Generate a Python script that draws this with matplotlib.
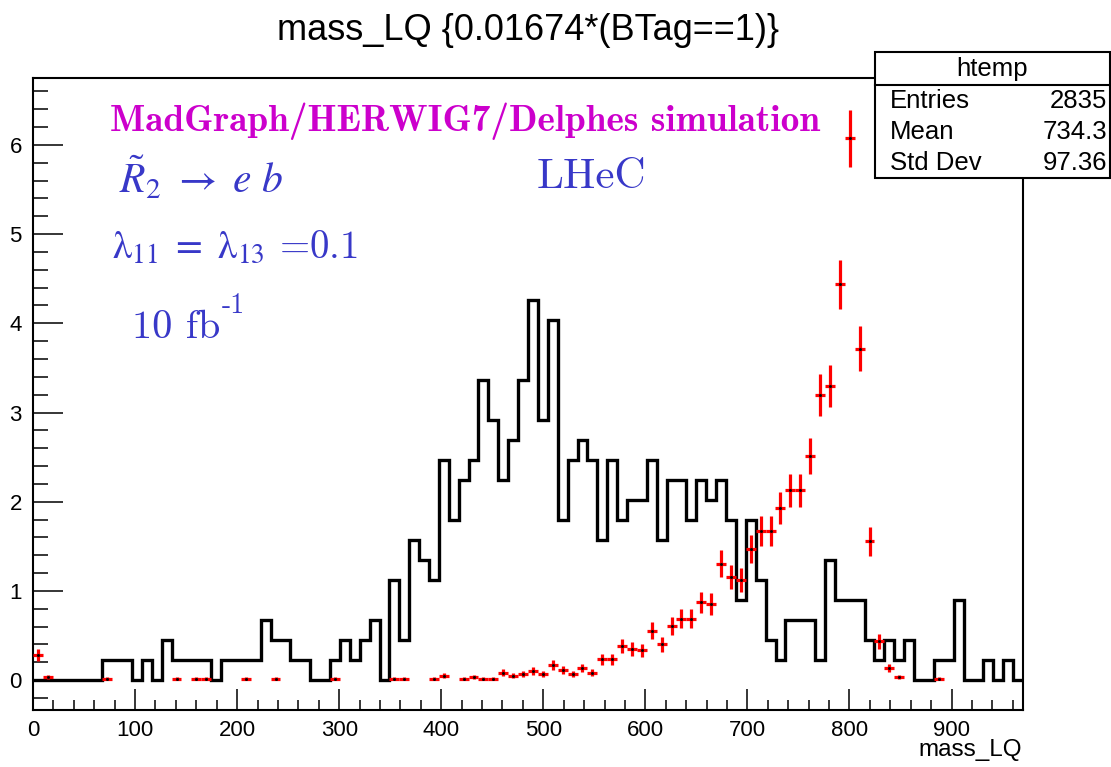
import numpy as np
import matplotlib.pyplot as plt
from matplotlib.ticker import MultipleLocator
from matplotlib.patches import Rectangle
from matplotlib.lines import Line2D

plt.rcParams['font.family'] = ['Liberation Sans', 'DejaVu Sans']

# htemp binning
nbins = 100
xmin, xmax = 0.0, 970.0

# black histogram: events per bin and the weight of one event
black_counts = [0, 0, 0, 0, 0, 0, 0, 1, 1, 1,
                0, 1, 0, 2, 1, 1, 1, 1, 0, 1,
                1, 1, 1, 3, 2, 2, 1, 1, 0, 0,
                1, 2, 1, 2, 3, 0, 5, 2, 7, 6,
                5, 11, 8, 10, 11, 15, 13, 10, 12, 15,
                19, 13, 18, 8, 11, 12, 11, 7, 11, 8,
                9, 9, 11, 7, 10, 10, 8, 10, 9, 10,
                8, 4, 8, 5, 2, 1, 3, 3, 3, 1,
                6, 4, 4, 4, 2, 1, 2, 1, 2, 0,
                0, 1, 1, 4, 0, 0, 1, 0, 1, 0]
black_weight = 0.224

# red histogram (htemp): non-empty bins and their entries
red_bins = [0, 1, 7, 14, 16, 17, 21, 24, 30, 36, 37, 40, 41, 43, 44, 45, 46,
            47, 48, 49, 50, 51, 52, 53, 54, 55, 56, 57, 58, 59, 60, 61,
            62, 63, 64, 65, 66, 67, 68, 69, 70, 71, 72, 73, 74, 75, 76, 77,
            78, 79, 80, 81, 82, 83, 84, 85, 86, 87, 91]
red_counts = [17, 2, 1, 1, 1, 1, 1, 1, 1, 1, 1, 1, 3, 1, 2, 1, 1,
              5, 3, 4, 6, 4, 10, 7, 4, 8, 5, 14, 14, 23, 21, 20,
              33, 24, 36, 41, 41, 52, 51, 78, 69, 67, 88, 100, 100, 115, 127, 127,
              150, 191, 197, 265, 363, 222, 93, 26, 8, 2, 1]
red_weight = 0.01674

stat_names = ['Entries', 'Mean', 'Std Dev']
stat_values = ['2835', '734.3', '97.36']

W, H = 1111, 767
fig = plt.figure(figsize=(W / 100, H / 100), dpi=100)
ax = fig.add_axes([33 / W, 1 - 710 / H, (1023 - 33) / W, (710 - 78) / H])

edges = np.linspace(xmin, xmax, nbins + 1)
centers = 0.5 * (edges[:-1] + edges[1:])
half = 0.5 * (xmax - xmin) / nbins

ax.stairs(np.array(black_counts) * black_weight, edges, color='black',
          lw=2.4, baseline=None, zorder=2)

rb = np.array(red_bins)
rc = np.array(red_counts, dtype=float)
ax.errorbar(centers[rb], rc * red_weight, xerr=half, yerr=np.sqrt(rc) * red_weight,
            fmt='none', ecolor='red', elinewidth=2.3, capsize=0, zorder=3)
ax.plot(centers[rb], rc * red_weight, ls='none', marker='s', ms=1.0,
        color='black', zorder=4)

ax.set_xlim(xmin, xmax)
ax.set_ylim(-0.335, 6.75)
ax.xaxis.set_major_locator(MultipleLocator(100))
ax.xaxis.set_minor_locator(MultipleLocator(20))
ax.yaxis.set_major_locator(MultipleLocator(1))
ax.yaxis.set_minor_locator(MultipleLocator(0.2))
ax.tick_params(which='both', direction='in', top=False, right=False,
               labelsize=16, width=1.1)
ax.tick_params(axis='x', which='major', length=14.9, pad=7)
ax.tick_params(axis='x', which='minor', length=7.5)
ax.tick_params(axis='y', which='major', length=21.4, pad=8)
ax.tick_params(axis='y', which='minor', length=10.7)
for sp in ax.spines.values():
    sp.set_linewidth(1.5)


def px(x, y):
    return x / W, 1 - y / H


fig.text(*px(528, 40), 'mass_LQ {0.01674*(BTag==1)}', ha='center',
         va='baseline', fontsize=26)
fig.text(*px(1022, 756), 'mass_LQ', ha='right', va='baseline', fontsize=17.5)

# stats box
bx0, bx1, by0, by1, bsep = 875, 1110, 52, 178, 85
fig.add_artist(Rectangle(px(bx0, by1), (bx1 - bx0) / W, (by1 - by0) / H,
                         transform=fig.transFigure, facecolor='white',
                         edgecolor='black', lw=1.5, zorder=5))
fig.add_artist(Line2D([bx0 / W, bx1 / W], [1 - bsep / H, 1 - bsep / H],
                      transform=fig.transFigure, color='black', lw=1.5, zorder=6))
fig.text(*px((bx0 + bx1) / 2, 76), 'htemp', ha='center', va='baseline',
         fontsize=18.5, zorder=7)
for i, (name, val) in enumerate(zip(stat_names, stat_values)):
    yb = 108 + 31 * i
    fig.text(*px(890, yb), name, ha='left', va='baseline', fontsize=18.5, zorder=7)
    fig.text(*px(1107, yb), val, ha='right', va='baseline', fontsize=18.5, zorder=7)

# annotations
blue = '#3838c8'
fig.text(*px(110, 131), 'MadGraph/HERWIG7/Delphes simulation', family='cmb10',
         color='#cc00cc', fontsize=26.8, ha='left', va='baseline')
fig.text(*px(119, 193), r'$\tilde{R}_2\ \rightarrow\ e\ b$', math_fontfamily='stix',
         color=blue, fontsize=30, ha='left', va='baseline')
fig.text(*px(537, 188), 'LHeC', family='cmr10', color=blue, fontsize=31,
         ha='left', va='baseline')
fig.text(*px(112, 258), r'$\mathrm{\lambda}_{11}\ =\ \mathrm{\lambda}_{13}$ =0.1',
         family='cmr10', math_fontfamily='stix', color=blue, fontsize=28,
         ha='left', va='baseline')
lum = fig.text(*px(132, 338), '10 fb', family='cmr10', color=blue, fontsize=29,
               ha='left', va='baseline')
ax.annotate('-1', xy=(1.02, 0.76), xycoords=lum, family='cmr10', color=blue,
            fontsize=20, ha='left', va='bottom', annotation_clip=False)

fig.savefig('out.png', dpi=100)
